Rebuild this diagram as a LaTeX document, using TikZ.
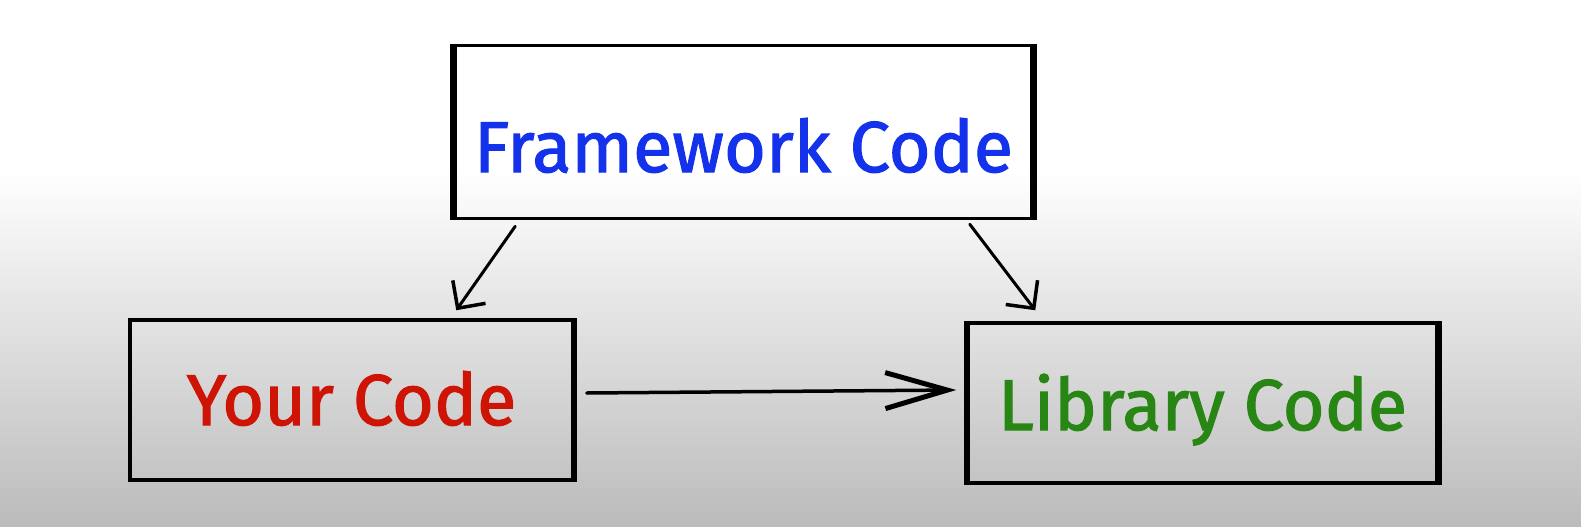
\documentclass[tikz,border=0pt]{standalone}
\usepackage{fontspec}
\setmainfont{Fira Sans}
\newfontfamily\handfont[FakeBold=1.6]{Fira Sans}
\usetikzlibrary{arrows.meta}
\definecolor{bggray}{RGB}{187,187,187}
\definecolor{fwblue}{RGB}{20,50,235}
\definecolor{ycred}{RGB}{205,20,5}
\definecolor{lcgreen}{RGB}{40,135,20}
\newcommand{\lbl}[2]{\raisebox{#1}[0pt][0pt]{#2}}
\tikzset{
  box/.style={draw=black, line width=3.5pt, inner sep=0pt, font=\handfont\fontsize{72}{80}\selectfont},
  side/.style={draw=black, line width=6pt},
  arr/.style={draw=black, line width=3pt, line cap=round, -{Straight Barb[length=20pt,width=40pt,line width=3.5pt]}},
  bigarr/.style={draw=black, line width=3.5pt, line cap=round, -{Straight Barb[length=62pt,width=36pt,line width=5pt]}}
}
\begin{document}
\begin{tikzpicture}[x=1pt,y=-1pt]
\useasboundingbox (0,0) rectangle (1581,527);
\fill[white] (0,0) rectangle (1581,170);
\shade[top color=white, bottom color=bggray] (0,170) rectangle (1581,527);
\node[box, minimum width=577pt, minimum height=173pt, text=fwblue] (fw) at (743.5,132) {\lbl{-40pt}{Framework Code}};
\node[box, minimum width=443pt, minimum height=160pt, text=ycred] (yc) at (351.5,400) {\lbl{-25pt}{Your Code}};
\node[box, minimum width=469pt, minimum height=160pt, text=lcgreen] (lc) at (1202.5,403) {\lbl{-27pt}{Library Code}};
\draw[side] (fw.north west) -- (fw.south west);
\draw[side] (fw.north east) -- (fw.south east);
\draw[side] (lc.north east) -- (lc.south east);
\draw[side, line width=5pt] (lc.north west) -- (lc.south west);
\draw[side, line width=4.5pt] (yc.north east) -- (yc.south east);
\draw[arr] ([xshift=62pt,yshift=-6pt]fw.south west) -- ([xshift=328pt,yshift=8pt]yc.north west);
\draw[arr] ([xshift=-64pt,yshift=-4pt]fw.south east) -- ([xshift=69pt,yshift=11pt]lc.north west);
\draw[bigarr] ([xshift=12pt,yshift=7pt]yc.east) -- ([xshift=-10pt,yshift=13pt]lc.west);
\end{tikzpicture}
\end{document}
